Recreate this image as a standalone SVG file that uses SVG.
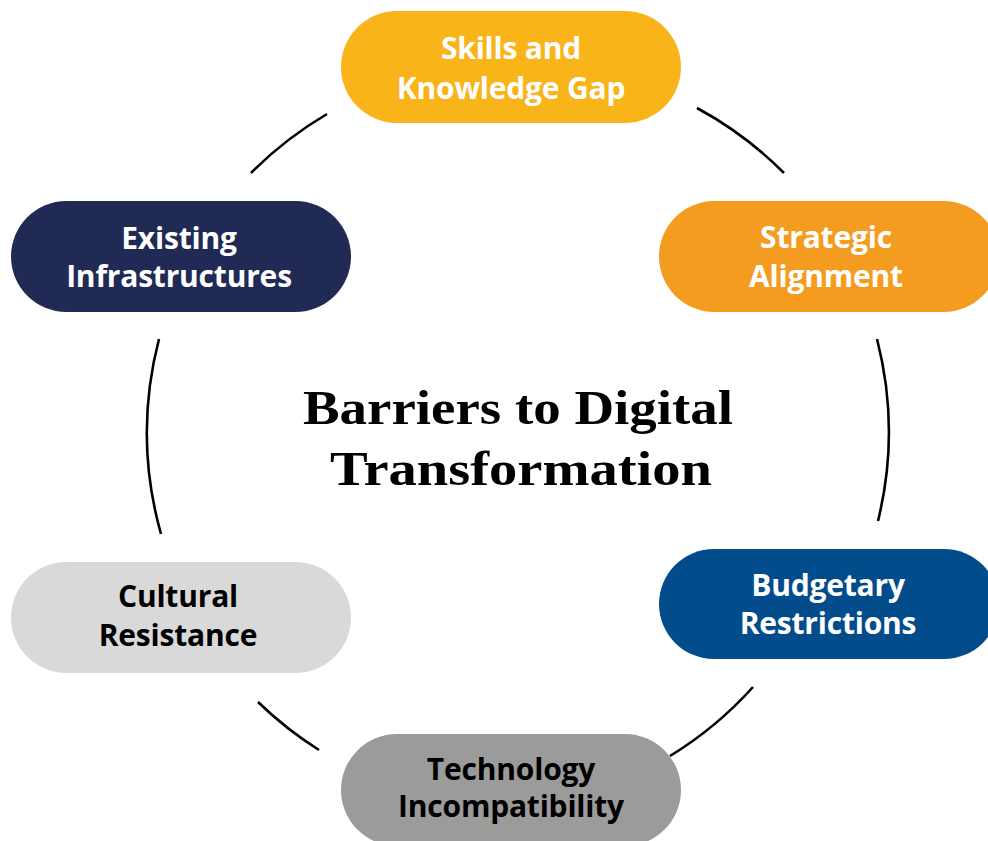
<svg xmlns="http://www.w3.org/2000/svg" width="988" height="841" viewBox="0 0 988 841">
  <style>
    .pill-label { font-family: "Open Sans", "Noto Sans", "Liberation Sans", sans-serif; font-weight: 700; font-size: 30px; letter-spacing: -0.2px; text-anchor: middle; }
    .light { fill: #ffffff; }
    .dark { fill: #000000; }
    .arc { fill: none; stroke: #000000; stroke-width: 2.6; stroke-linecap: butt; }
    .title { font-family: "Liberation Serif", "Times New Roman", serif; font-weight: 700; font-size: 48px; text-anchor: middle; fill: #000000; }
  </style>
  <rect width="988" height="841" fill="#ffffff"/>

  <!-- ring of arcs linking the six barriers -->
  <g id="connectors">
    <path class="arc" d="M 251 173 A 373 373 0 0 1 327 114"/>
    <path class="arc" d="M 697 108 A 373 373 0 0 1 784 173"/>
    <path class="arc" d="M 877 339 A 373 373 0 0 1 878 521"/>
    <path class="arc" d="M 753 687 A 373 373 0 0 1 670 756"/>
    <path class="arc" d="M 319 750 A 373 373 0 0 1 258 702"/>
    <path class="arc" d="M 161 534 A 373 373 0 0 1 159 339"/>
  </g>

  <!-- central title -->
  <g id="title">
    <text class="title" x="518" y="424" textLength="430" lengthAdjust="spacingAndGlyphs">Barriers to Digital</text>
    <text class="title" x="521" y="485" textLength="382" lengthAdjust="spacingAndGlyphs">Transformation</text>
  </g>

  <g id="skills-gap">
    <rect x="341" y="11" width="340" height="112" rx="56" fill="#F9B41A"/>
    <text class="pill-label light" x="511" y="59">Skills and</text>
    <text class="pill-label light" x="511" y="99">Knowledge Gap</text>
  </g>

  <g id="strategic-alignment">
    <rect x="659" y="201" width="340" height="111" rx="55.5" fill="#F49C1F"/>
    <text class="pill-label light" x="826" y="248">Strategic</text>
    <text class="pill-label light" x="826" y="287">Alignment</text>
  </g>

  <g id="budgetary-restrictions">
    <rect x="659" y="549" width="340" height="110" rx="55" fill="#034C8C"/>
    <text class="pill-label light" x="828" y="596">Budgetary</text>
    <text class="pill-label light" x="828" y="634">Restrictions</text>
  </g>

  <g id="technology-incompatibility">
    <rect x="341" y="734" width="340" height="112" rx="56" fill="#9B9B9B"/>
    <text class="pill-label dark" x="511" y="780">Technology</text>
    <text class="pill-label dark" x="511" y="817">Incompatibility</text>
  </g>

  <g id="cultural-resistance">
    <rect x="11" y="562" width="340" height="111" rx="55.5" fill="#D9D9D9"/>
    <text class="pill-label dark" x="178" y="607">Cultural</text>
    <text class="pill-label dark" x="178" y="646">Resistance</text>
  </g>

  <g id="existing-infrastructures">
    <rect x="11" y="201" width="340" height="111" rx="55.5" fill="#202A54"/>
    <text class="pill-label light" x="179" y="249">Existing</text>
    <text class="pill-label light" x="179" y="287">Infrastructures</text>
  </g>
</svg>
